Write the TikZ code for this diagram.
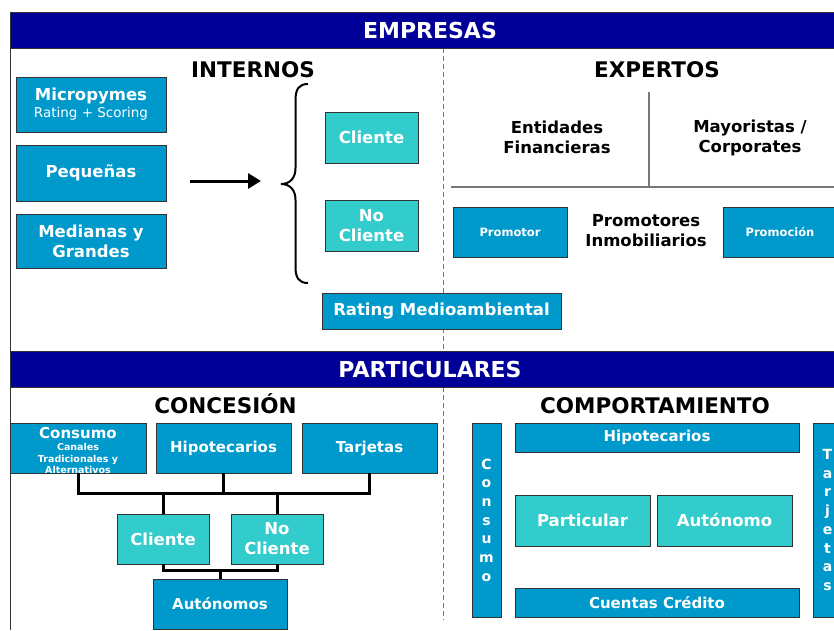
\documentclass[tikz,border=0pt]{standalone}
\usepackage{fontspec}
\setmainfont{DejaVu Sans}
\usetikzlibrary{arrows.meta}
\definecolor{navy}{HTML}{000099}
\definecolor{boxblue}{HTML}{0099CC}
\definecolor{tealbox}{HTML}{33CCCC}
\definecolor{edgegray}{HTML}{333333}
\definecolor{linegray}{HTML}{777777}
\newcommand\smallcons{\fontsize{9.5}{11.5}\selectfont}
\tikzset{
  bluebox/.style={draw=edgegray, line width=0.9pt, fill=boxblue, text=white, inner sep=0pt, align=center,
    font=\bfseries\fontsize{16.5}{20}\selectfont},
  cyanbox/.style={bluebox, fill=tealbox},
  midbox/.style={bluebox, font=\bfseries\fontsize{15}{18}\selectfont},
  smallbox/.style={bluebox, font=\bfseries\fontsize{11.5}{14}\selectfont},
  vbox/.style={bluebox, font=\bfseries\fontsize{14}{18.7}\selectfont},
  bandbar/.style={draw=edgegray, line width=0.9pt, fill=navy, text=white, inner sep=0pt,
    font=\bfseries\fontsize{22}{26}\selectfont},
  heading/.style={anchor=base, inner sep=0pt, font=\bfseries\fontsize{21.5}{26}\selectfont},
  plainlbl/.style={inner sep=0pt, align=center, font=\bfseries\fontsize{16.5}{20}\selectfont},
  frameline/.style={draw=edgegray, line width=1pt},
  divider/.style={draw=linegray, line width=1pt, dash pattern=on 5pt off 3pt},
  expline/.style={draw=linegray, line width=1.6pt},
  conn/.style={draw=black, line width=3pt, line join=miter},
}
\begin{document}
\begin{tikzpicture}[x=1pt,y=-1pt]
\clip (0,0) rectangle (834,630);
\fill[white] (0,0) rectangle (834,630);

% frame lines
\coordinate (fl1) at (10,48);
\coordinate (fl2) at (10,351);
\coordinate (fl3) at (10,387);
\coordinate (fl4) at (10,630);
\draw[frameline] (fl1) -- (fl2);
\draw[frameline] (fl3) -- (fl4);
\coordinate (dv1) at (443,48);
\coordinate (dv2) at (443,351);
\coordinate (dv3) at (443,387);
\coordinate (dv4) at (443,620);
\draw[divider] (dv1) -- (dv2);
\draw[divider] (dv3) -- (dv4);

% bars
\node[bandbar, minimum width=840, minimum height=36] (empresas) at (430,30) {EMPRESAS};
\node[bandbar, minimum width=840, minimum height=36] (particulares) at (430,369) {PARTICULARES};

% headings
\node[heading] (internos) at (253,77) {INTERNOS};
\node[heading] (expertos) at (657,77) {EXPERTOS};
\node[heading] (concesion) at (225.5,413) {CONCESIÓN};
\node[heading] (comport) at (655,413) {COMPORTAMIENTO};

% INTERNOS
\node[bluebox, minimum width=150, minimum height=55] (micro) at (91,104.5)
  {Micropymes\\[-3pt]{\mdseries\fontsize{13.5}{15}\selectfont Rating + Scoring}};
\node[bluebox, minimum width=150, minimum height=56] (peque) at (91,173) {Pequeñas};
\node[bluebox, minimum width=150, minimum height=54] (medianas) at (91,241) {Medianas y\\Grandes};
\coordinate (arrS) at (190,181);
\coordinate (arrE) at (261,181);
\draw[line width=3pt, -{Triangle[length=13pt,width=15pt]}] (arrS) -- (arrE);
\draw[line width=2pt] (308,84) .. controls (299,84) and (295.5,89) .. (295.5,100)
  -- (295.5,168) .. controls (295.5,178) and (290,184) .. (281,184)
  .. controls (290,184) and (295.5,190) .. (295.5,200)
  -- (295.5,267) .. controls (295.5,278) and (299,283) .. (308,283);
\node[cyanbox, minimum width=93, minimum height=51] (cli1) at (371.5,137.5) {Cliente};
\node[cyanbox, minimum width=93, minimum height=51] (nocli1) at (371.5,225.5) {No\\Cliente};
\node[bluebox, minimum width=239, minimum height=36] (rating) at (441.5,311) {Rating Medioambiental};

% EXPERTOS
\coordinate (ev1) at (649,92);
\coordinate (ev2) at (649,187);
\coordinate (eh1) at (451,187);
\coordinate (eh2) at (840,187);
\draw[expline] (ev1) -- (ev2);
\draw[expline] (eh1) -- (eh2);
\node[plainlbl] (entidades) at (557,137) {Entidades\\Financieras};
\node[plainlbl] (mayoristas) at (750,138) {Mayoristas /\\Corporates};
\node[smallbox, minimum width=114, minimum height=50] (promotor) at (510,232) {Promotor};
\node[plainlbl] (promotores) at (646,231) {Promotores\\Inmobiliarios};
\node[smallbox, minimum width=114, minimum height=50] (promocion) at (780,232) {Promoción};

% CONCESION
\node[midbox, minimum width=136, minimum height=50] (cons2) at (78,448) {};
\node[anchor=north, inner sep=0pt, align=center, text=white, font=\bfseries\smallcons] (cons2txt) at (78,427)
  {{\fontsize{15}{16}\selectfont Consumo}\\[1pt]\smallcons Canales\\\smallcons Tradicionales y\\\smallcons Alternativos};
\node[midbox, minimum width=135, minimum height=50] (hipo2) at (223.5,448) {Hipotecarios};
\node[midbox, minimum width=135, minimum height=50] (tarj2) at (369.5,448) {Tarjetas};
\node[cyanbox, minimum width=92, minimum height=50] (cli2) at (163,539) {Cliente};
\node[cyanbox, minimum width=92, minimum height=50] (nocli2) at (277,539) {No\\Cliente};
\node[midbox, minimum width=134, minimum height=50] (auto2) at (220,604) {Autónomos};
\coordinate (busA) at (0,493);
\coordinate (busB) at (0,570);
\draw[conn] (cons2.south) |- (tarj2.south |- busA) -- (tarj2.south);
\draw[conn] (hipo2.south) -- (hipo2.south |- busA);
\draw[conn] (cli2.north) -- (cli2.north |- busA);
\draw[conn] (nocli2.north) -- (nocli2.north |- busA);
\draw[conn] (cli2.south) |- (nocli2.south |- busB) -- (nocli2.south);
\draw[conn] (auto2.north) -- (auto2.north |- busB);

% COMPORTAMIENTO
\node[vbox, minimum width=29, minimum height=194] (consV) at (486.5,520) {C\\o\\n\\s\\u\\m\\o};
\node[midbox, minimum width=284, minimum height=29] (hipo3) at (657,437.5) {Hipotecarios};
\node[cyanbox, minimum width=135, minimum height=51] (partic) at (582.5,520.5) {Particular};
\node[cyanbox, minimum width=135, minimum height=51] (auto3) at (724.5,520.5) {Autónomo};
\node[midbox, minimum width=284, minimum height=29] (cuentas) at (657,602.5) {Cuentas Crédito};
\node[vbox, minimum width=29, minimum height=194] (tarjV) at (827.5,520) {T\\a\\r\\j\\e\\t\\a\\s};
\end{tikzpicture}
\end{document}
